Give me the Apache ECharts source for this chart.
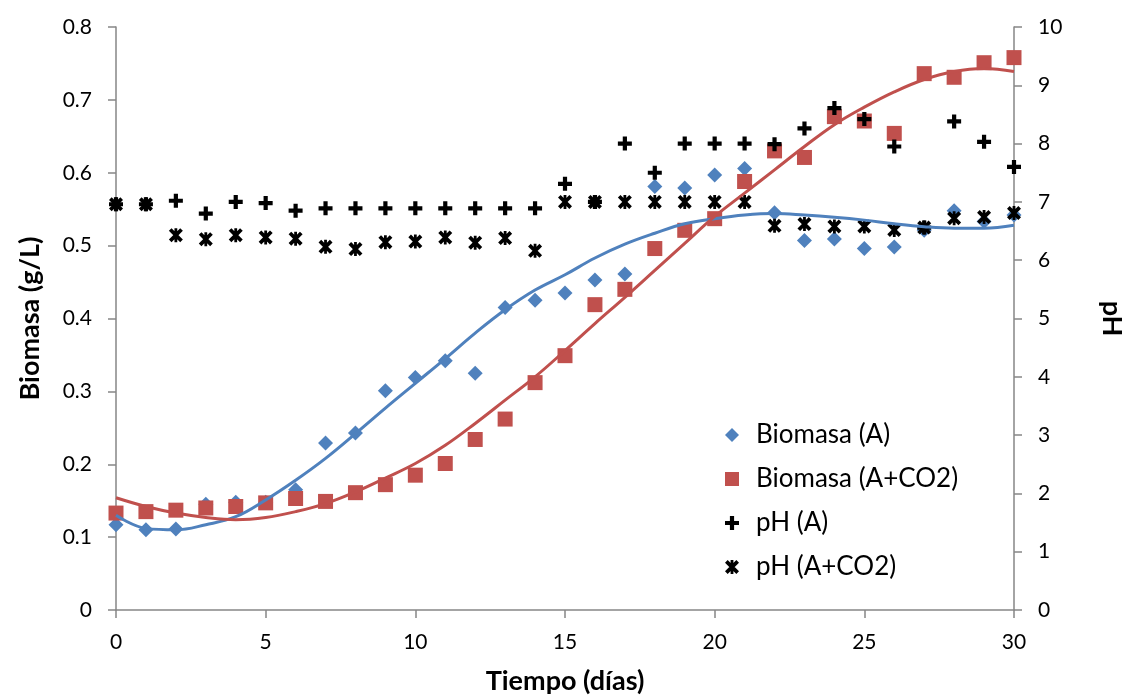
<!DOCTYPE html>
<html>
<head>
<meta charset="utf-8">
<title>Biomasa y pH</title>
<script src="https://cdn.jsdelivr.net/npm/echarts@6/dist/echarts.min.js"></script>
<style>
  html, body { margin: 0; padding: 0; background: #fff; }
  #chart { width: 1126px; height: 700px; }
</style>
</head>
<body>
<div id="chart"></div>
<script>
// dias de cultivo
const dias = [0, 1, 2, 3, 4, 5, 6, 7, 8, 9, 10, 11, 12, 13, 14, 15, 16, 17, 18, 19, 20, 21, 22, 23, 24, 25, 26, 27, 28, 29, 30]

// biomasa (g/L)
const biomasaA = [0.117, 0.110, 0.111, 0.145, 0.148, 0.148, 0.165, 0.229, 0.243, 0.301, 0.319, 0.342, 0.325, 0.415, 0.425, 0.435,
  0.453, 0.461, 0.581, 0.579, 0.597, 0.606, 0.545, 0.507, 0.509, 0.496, 0.498, 0.521, 0.548, 0.533, 0.542]
const biomasaACO2 = [0.133, 0.135, 0.137, 0.140, 0.142, 0.147, 0.153, 0.149, 0.161, 0.172, 0.185, 0.201, 0.234, 0.262, 0.312, 0.349,
  0.419, 0.440, 0.496, 0.521, 0.537, 0.588, 0.630, 0.621, 0.677, 0.671, 0.654, 0.736, 0.731, 0.751, 0.758]

// pH
const phA = [6.96, 6.96, 7.02, 6.80, 7.00, 6.98, 6.85, 6.89, 6.89, 6.89, 6.89, 6.89, 6.89, 6.89, 6.89, 7.31,
  7.00, 8.00, 7.50, 8.00, 8.00, 8.00, 7.99, 8.26, 8.61, 8.42, 7.95, 6.56, 8.38, 8.03, 7.60]
const phACO2 = [6.96, 6.96, 6.43, 6.36, 6.43, 6.39, 6.37, 6.23, 6.19, 6.31, 6.32, 6.39, 6.30, 6.38, 6.16, 7.00,
  7.00, 7.00, 7.00, 7.00, 7.00, 7.00, 6.59, 6.62, 6.58, 6.58, 6.52, 6.56, 6.72, 6.74, 6.81]

// lineas de tendencia
const tendA = [0.130, 0.112, 0.110, 0.117, 0.128, 0.151, 0.178, 0.208, 0.242, 0.277, 0.311, 0.345, 0.380, 0.412, 0.439, 0.460,
  0.483, 0.502, 0.517, 0.530, 0.537, 0.542, 0.544, 0.542, 0.539, 0.535, 0.530, 0.526, 0.524, 0.524, 0.528]
const tendACO2 = [0.154, 0.142, 0.133, 0.127, 0.124, 0.127, 0.135, 0.146, 0.162, 0.181, 0.201, 0.226, 0.256, 0.288, 0.320, 0.356,
  0.393, 0.429, 0.466, 0.503, 0.540, 0.572, 0.604, 0.636, 0.666, 0.690, 0.711, 0.728, 0.739, 0.743, 0.739]

const azul = '#4F81BD'
const rojo = '#C0504D'
const gris = '#868686'
const fuente = 'Lato, "Open Sans", sans-serif'

// simbolos de excel: cruz y asterisco
const cruz = 'path://M3.5,0H6.5V3.5H10V6.5H6.5V10H3.5V6.5H0V3.5H3.5Z'
const estrella = 'path://M0,1.9L1.9,0L10,8.1L8.1,10Z M8.1,0L10,1.9L1.9,10L0,8.1Z M4,0H6V10H4Z'

const pares = (xs, ys) => xs.map((x, i) => [x, ys[i]])

function ejeY(nombre, max, interval, pos, gap, rot, fmt) {
  return {
    type: 'value',
    position: pos,
    min: 0,
    max: max,
    interval: interval,
    name: nombre,
    nameLocation: 'middle',
    nameGap: gap,
    nameRotate: rot,
    nameTextStyle: { fontFamily: fuente, fontSize: 27, fontWeight: 'bold', color: '#000' },
    axisLine: { show: true, lineStyle: { color: gris, width: 1.5 } },
    axisTick: { show: true, inside: false, length: 8, lineStyle: { color: gris, width: 1.5 } },
    axisLabel: { fontFamily: fuente, fontSize: 21, color: '#000', margin: 24, formatter: fmt },
    splitLine: { show: false }
  }
}

const myChart = echarts.init(document.getElementById('chart'), null, { renderer: 'canvas' })
myChart.setOption({
  backgroundColor: '#fff',
  animation: false,
  grid: { left: 116, right: 112, top: 27, bottom: 90, containLabel: false, outerBoundsMode: 'none' },
  legend: {
    orient: 'vertical',
    left: 720,
    top: 417,
    itemGap: 18,
    itemWidth: 14,
    itemHeight: 14,
    textStyle: { fontFamily: fuente, fontSize: 26, lineHeight: 26, color: '#000', padding: [0, 0, 0, 12] },
    data: [
      { name: 'Biomasa (A)', icon: 'diamond', itemStyle: { color: azul } },
      { name: 'Biomasa (A+CO2)', icon: 'rect', itemStyle: { color: rojo } },
      { name: 'pH (A)', icon: cruz, itemStyle: { color: '#000' } },
      { name: 'pH (A+CO2)', icon: estrella, itemStyle: { color: '#000' } }
    ],
    selectedMode: false
  },
  xAxis: {
    type: 'value',
    min: 0,
    max: 30,
    interval: 5,
    name: 'Tiempo (días)',
    nameLocation: 'middle',
    nameGap: 58,
    nameTextStyle: { fontFamily: fuente, fontSize: 27, fontWeight: 'bold', color: '#000' },
    axisLine: { lineStyle: { color: gris, width: 1.5 } },
    axisTick: { show: true, inside: false, length: 8, lineStyle: { color: gris, width: 1.5 } },
    axisLabel: { fontFamily: fuente, fontSize: 21, color: '#000', margin: 22 },
    splitLine: { show: false }
  },
  yAxis: [
    ejeY('Biomasa (g/L)', 0.8, 0.1, 'left', 72, 90, v => (v === 0 ? '0' : v.toFixed(1))),
    ejeY('pH', 10, 1, 'right', 84, -90, v => String(v))
  ],
  series: [
    {
      name: 'Biomasa (A)', type: 'scatter', yAxisIndex: 0, symbol: 'diamond', symbolSize: 15,
      itemStyle: { color: azul, opacity: 1 }, data: pares(dias, biomasaA), z: 2
    },
    {
      name: 'Biomasa (A+CO2)', type: 'scatter', yAxisIndex: 0, symbol: 'rect', symbolSize: 15,
      itemStyle: { color: rojo, opacity: 1 }, data: pares(dias, biomasaACO2), z: 3
    },
    {
      name: 'pH (A)', type: 'scatter', yAxisIndex: 1, symbol: cruz, symbolSize: 14,
      itemStyle: { color: '#000', opacity: 1 }, data: pares(dias, phA), z: 4
    },
    {
      name: 'pH (A+CO2)', type: 'scatter', yAxisIndex: 1, symbol: estrella, symbolSize: 14,
      itemStyle: { color: '#000', opacity: 1 }, data: pares(dias, phACO2), z: 5
    },
    {
      name: 'tendencia A', type: 'line', yAxisIndex: 0, smooth: 0.4, showSymbol: false,
      lineStyle: { color: azul, width: 3 }, data: pares(dias, tendA), z: 6, silent: true
    },
    {
      name: 'tendencia A+CO2', type: 'line', yAxisIndex: 0, smooth: 0.4, showSymbol: false,
      lineStyle: { color: rojo, width: 3 }, data: pares(dias, tendACO2), z: 6, silent: true
    }
  ]
})
</script>
</body>
</html>
